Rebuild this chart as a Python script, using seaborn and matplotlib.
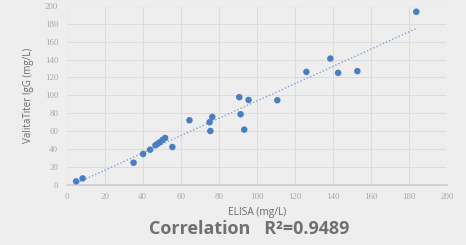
import numpy as np
import pandas as pd
import seaborn as sns
import matplotlib
matplotlib.use("Agg")
import matplotlib.pyplot as plt

# values
elisa = [5.0, 8.4, 35.2, 40.2, 43.9, 46.7, 47.9, 49.0, 50.4, 51.8, 55.6,
         64.6, 75.2, 76.6, 75.6, 91.5, 93.4, 90.8, 95.7, 110.8, 126.1,
         138.7, 142.8, 152.9, 183.9]
valitatiter = [3.8, 7.1, 24.6, 34.4, 39.2, 44.1, 45.9, 47.5, 50.0, 52.3, 42.2,
               72.1, 69.9, 75.8, 60.1, 78.8, 61.6, 97.9, 94.8, 94.5, 126.2,
               141.1, 125.1, 127.0, 193.4]
x_ticks = [0, 20, 40, 60, 80, 100, 120, 140, 160, 180, 200]
y_ticks = [0, 20, 40, 60, 80, 100, 120, 140, 160, 180, 200]
r_squared = "0.9489"

df = pd.DataFrame({"elisa": elisa, "valitatiter": valitatiter})

bg = "#eeeeee"
sns.set_theme(style="whitegrid", rc={
    "axes.facecolor": bg, "figure.facecolor": bg,
    "grid.color": "#dcdcdc", "grid.linewidth": 0.8,
    "axes.edgecolor": bg,
})
plt.rcParams["font.family"] = ["DejaVu Sans"]

fig = plt.figure(figsize=(4.66, 2.45), dpi=100)
ax = fig.add_axes([0.143, 0.246, 0.816, 0.730])

point_color = "#4a7ec4"
sns.scatterplot(data=df, x="elisa", y="valitatiter", ax=ax, color=point_color,
                s=22, edgecolor="none", zorder=3)

# linear trendline over the data range
slope, intercept = np.polyfit(df["elisa"], df["valitatiter"], 1)
xs = np.array([df["elisa"].min(), df["elisa"].max()])
ax.plot(xs, slope * xs + intercept, linestyle=(0, (1, 1.5)), color="#7ea4d6",
        linewidth=1.0, zorder=2)

ax.set_xlim(0, 200)
ax.set_ylim(0, 200)
ax.set_xticks(x_ticks)
ax.set_yticks(y_ticks)
ax.tick_params(axis="both", labelsize=6.5, labelcolor="#a8a8a8", length=0, pad=6)
for lbl in ax.get_xticklabels() + ax.get_yticklabels():
    lbl.set_family("Liberation Serif")
ax.spines["bottom"].set_color("#cfcfcf")
ax.spines["bottom"].set_visible(True)

ax.set_xlabel("ELISA (mg/L)", fontsize=7.3, color="#6a6a6a", family="Open Sans", labelpad=4)
ax.set_ylabel("ValitaTiter IgG (mg/L)", fontsize=7, color="#6a6a6a", family="Open Sans", labelpad=8)

fig.text(0.535, 0.065, "Correlation   R²=" + r_squared, ha="center", va="center",
         fontsize=13, fontweight="bold", color="#707070", family="Open Sans")

fig.savefig("out.png", dpi=100, facecolor=bg)
